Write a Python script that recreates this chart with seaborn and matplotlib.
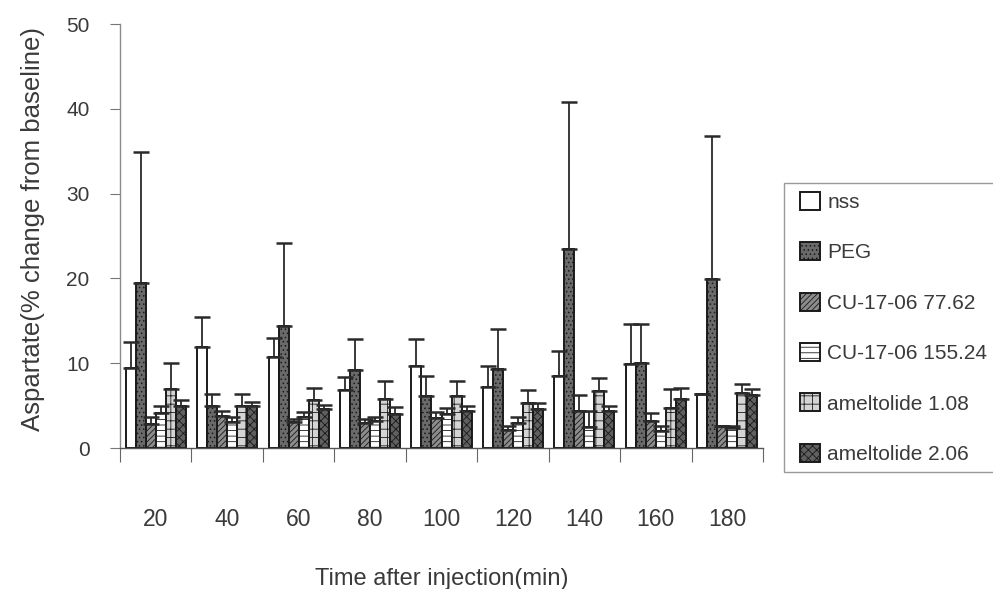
import numpy as np
import pandas as pd
import matplotlib
matplotlib.use("Agg")
import matplotlib.pyplot as plt
from matplotlib.patches import Patch, Rectangle
from matplotlib.ticker import FixedLocator, NullFormatter
import seaborn as sns

# Time points (min)
categories = ["20", "40", "60", "80", "100", "120", "140", "160", "180"]
groups = ["nss", "PEG", "CU-17-06 77.62", "CU-17-06 155.24",
          "ameltolide 1.08", "ameltolide 2.06"]

# Mean aspartate (% change from baseline) and SEM per group
nss_mean = [9.4, 11.9, 10.7, 6.8, 9.7, 7.2, 8.5, 9.9, 6.4]
nss_sem = [3.1, 3.6, 2.3, 1.6, 3.2, 2.5, 2.9, 4.7, 0.0]
peg_mean = [19.5, 4.9, 14.4, 9.2, 6.1, 9.3, 23.5, 10.0, 19.9]
peg_sem = [15.4, 1.5, 9.8, 3.6, 2.4, 4.7, 17.3, 4.6, 16.9]
cu77_mean = [2.8, 3.8, 3.1, 3.0, 3.5, 2.1, 4.4, 3.2, 2.6]
cu77_sem = [0.8, 0.6, 0.3, 0.4, 0.7, 0.5, 1.9, 0.9, 0.0]
cu155_mean = [4.1, 3.1, 3.7, 3.2, 4.0, 2.9, 2.5, 2.0, 2.4]
cu155_sem = [0.9, 0.5, 0.5, 0.4, 0.75, 0.7, 1.9, 0.6, 0.2]
am108_mean = [7.0, 4.9, 5.7, 5.8, 6.1, 5.3, 6.7, 4.7, 6.45]
am108_sem = [3.0, 1.5, 1.4, 2.1, 1.8, 1.5, 1.5, 2.2, 1.1]
am206_mean = [5.0, 4.9, 4.6, 4.0, 4.4, 4.6, 4.4, 5.8, 6.2]
am206_sem = [0.7, 0.5, 0.5, 0.8, 0.55, 0.7, 0.55, 1.3, 0.8]

means = [nss_mean, peg_mean, cu77_mean, cu155_mean, am108_mean, am206_mean]
sems = [nss_sem, peg_sem, cu77_sem, cu155_sem, am108_sem, am206_sem]

# fill colour and hatch for each group
styles = [("white", ""), ("#6a6a6a", "...."), ("#8c8c8c", "//////"),
          ("white", "---"), ("#d4d4d4", "++"), ("#606060", "xxxx")]

rows = []
for g, m, s in zip(groups, means, sems):
    for c, v, e in zip(categories, m, s):
        rows.append({"time": c, "group": g, "value": v, "sem": e})
df = pd.DataFrame(rows)

sns.set_theme(style="white")
plt.rcParams["font.family"] = ["Liberation Sans", "DejaVu Sans"]
plt.rcParams["hatch.linewidth"] = 0.6

fig = plt.figure(figsize=(9.93, 5.89), dpi=100)
ax = fig.add_axes([120 / 993, 1 - 448 / 589, 643 / 993, 424 / 589])

sns.barplot(data=df, x="time", y="value", hue="group", order=categories,
            hue_order=groups, width=0.84, errorbar=None, legend=False,
            palette=["white"] * 6, edgecolor="#1a1a1a", linewidth=1.4,
            saturation=1, ax=ax)

for container, (fc, hatch), g in zip(ax.containers, styles, groups):
    sub = df[df["group"] == g].set_index("time").loc[categories]
    xs, tops = [], []
    for patch in container:
        patch.set_facecolor(fc)
        patch.set_hatch(hatch)
        xs.append(patch.get_x() + patch.get_width() / 2)
        tops.append(patch.get_height())
    err = sub["sem"].to_numpy()
    ax.errorbar(xs, tops, yerr=[np.zeros_like(err), err], fmt="none",
                ecolor="#2a2a2a", elinewidth=1.3, capsize=6, capthick=1.8,
                zorder=1)

ax.set_xlim(-0.5, 8.5)
ax.set_ylim(0, 50)
ax.set_yticks(range(0, 51, 10))

for side in ("top", "right"):
    ax.spines[side].set_visible(False)
ax.spines["left"].set_color("#8a8a8a")
ax.spines["left"].set_linewidth(1.0)
ax.spines["left"].set_linestyle((0, (4, 1)))
ax.spines["bottom"].set_color("#555555")
ax.spines["bottom"].set_linewidth(1.0)

ax.tick_params(axis="y", which="major", left=True, length=7, width=0.8,
               color="#777777", pad=15, labelsize=15, labelcolor="#3a3a3a")
ax.tick_params(axis="x", which="major", bottom=False, pad=37, labelsize=16.5,
               labelcolor="#3a3a3a")
ax.xaxis.set_minor_locator(FixedLocator(np.arange(-0.5, 9.0, 1.0)))
ax.xaxis.set_minor_formatter(NullFormatter())
ax.tick_params(axis="x", which="minor", bottom=True, length=10, width=0.8,
               color="#666666")

ax.set_xlabel("Time after injection(min)", fontsize=17, color="#3a3a3a",
              labelpad=27)
ax.set_ylabel("Aspartate(% change from baseline)", fontsize=18.5,
              color="#3a3a3a", labelpad=15)
ax.yaxis.label.set_y(0.516)

# legend box running off the right edge
fig.add_artist(Rectangle((784 / 993, 1 - 472 / 589), 230 / 993, 289 / 589,
                         transform=fig.transFigure, facecolor="white",
                         edgecolor="#9a9a9a", linewidth=1.0, zorder=0))

handles = [Patch(facecolor=fc, hatch=h, edgecolor="#1a1a1a", linewidth=1.4)
           for fc, h in styles]
leg = fig.legend(handles, groups, loc="upper left",
                 bbox_to_anchor=(800 / 993, 1 - 192 / 589),
                 fontsize=15, frameon=False, labelspacing=1.45,
                 handlelength=0.95, handleheight=0.95, handletextpad=0.35,
                 borderpad=0, borderaxespad=0)
for t in leg.get_texts():
    t.set_color("#3a3a3a")

fig.savefig("out.png", dpi=100)
